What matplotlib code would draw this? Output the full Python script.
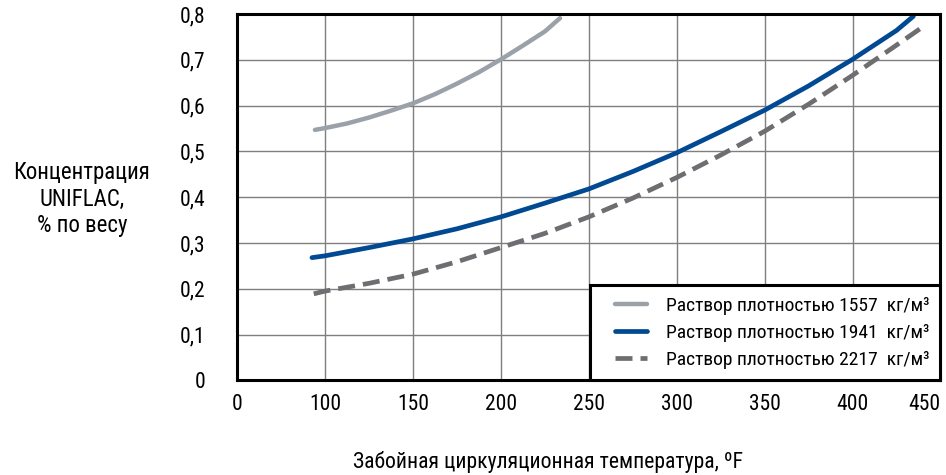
import numpy as np
import matplotlib
matplotlib.use('Agg')
import matplotlib.pyplot as plt
from matplotlib import font_manager
from matplotlib.patches import Rectangle

names = set(f.name for f in font_manager.fontManager.ttflist)
narrow = [n for n in ['Roboto Condensed', 'Liberation Sans Narrow', 'Arial Narrow', 'Roboto'] if n in names]
plt.rcParams['font.family'] = narrow[:1] + ['DejaVu Sans']

# data (temperature in F, concentration in % by weight)
t_1557 = [88.4, 100, 112.5, 125, 137.5, 150, 162.5, 175, 187.5, 200, 212.5, 225, 233.6]
c_1557 = [0.547, 0.551, 0.561, 0.574, 0.589, 0.605, 0.625, 0.648, 0.673, 0.701, 0.731, 0.762, 0.791]

t_1941 = [85, 100, 125, 150, 175, 200, 225, 250, 275, 300, 325, 350, 375, 400, 425, 434.6]
c_1941 = [0.268, 0.272, 0.290, 0.309, 0.331, 0.357, 0.387, 0.418, 0.456, 0.497,
          0.543, 0.590, 0.643, 0.701, 0.764, 0.795]

t_2217 = [87, 100, 125, 150, 175, 200, 225, 250, 275, 300, 325, 350, 375, 400, 425, 440]
c_2217 = [0.189, 0.195, 0.212, 0.232, 0.259, 0.290, 0.321, 0.357, 0.398, 0.443,
          0.492, 0.544, 0.603, 0.666, 0.732, 0.772]

x_ticks = [0, 100, 150, 200, 250, 300, 350, 400, 450]
y_ticks = [0, 0.1, 0.2, 0.3, 0.4, 0.5, 0.6, 0.7, 0.8]
y_ticklabels = ['0', '0,1', '0,2', '0,3', '0,4', '0,5', '0,6', '0,7', '0,8']
labels = ['Раствор плотностью 1557  кг/м³',
          'Раствор плотностью 1941  кг/м³',
          'Раствор плотностью 2217  кг/м³']


# x axis: 0..100 takes one grid step, then 50 per step
def fwd(x):
    x = np.asarray(x, dtype=float)
    return np.where(x <= 100, x / 100.0, 1 + (x - 100) / 50.0)


def inv(p):
    p = np.asarray(p, dtype=float)
    return np.where(p <= 1, p * 100.0, 100 + (p - 1) * 50.0)


fig = plt.figure(figsize=(9.46, 4.75), dpi=100)
ax = fig.add_axes([0.2508, 0.1992, 0.7433, 0.7713])
ax.set_xscale('function', functions=(fwd, inv))

l1, = ax.plot(t_1557, c_1557, color='#9aa1a8', lw=3.2, solid_capstyle='round', solid_joinstyle='round')
l2, = ax.plot(t_1941, c_1941, color='#014a93', lw=3.4, solid_capstyle='round', solid_joinstyle='round')
l3, = ax.plot(t_2217, c_2217, color='#6d6e71', lw=3.4, dashes=(3.6, 1.7))

ax.set_xlim(0, 450)
ax.set_ylim(0, 0.8)
ax.set_xticks(x_ticks)
ax.set_xticklabels([str(v) for v in x_ticks])
ax.set_yticks(y_ticks)
ax.set_yticklabels(y_ticklabels)
ax.get_xticklabels()[-1].set_horizontalalignment('right')

ax.grid(True, color='#7f7f7f', lw=1.0)
ax.set_axisbelow(True)
ax.tick_params(length=0, labelsize=15.5)
ax.tick_params(axis='y', pad=23)
ax.tick_params(axis='x', pad=10)
for s in ax.spines.values():
    s.set_linewidth(2.2)
    s.set_color('black')

ax.set_ylabel('Концентрация\nUNIFLAC,\n% по весу', rotation=0, fontsize=16.5,
              ha='center', va='center', linespacing=1.2)
ax.yaxis.set_label_coords(-0.221, 0.495)
ax.set_xlabel('Забойная циркуляционная температура, ºF', fontsize=15.6)
ax.xaxis.set_label_coords(0.442, -0.223)
ax.xaxis.label.set_va('center')

# legend box drawn as its own frame, entries placed inside it
box = Rectangle((0.502, 0.0), 0.498, 0.26, transform=ax.transAxes, fc='white',
                ec='black', lw=2.2, zorder=4, clip_on=False)
ax.add_patch(box)
leg = ax.legend([l1, l2, l3], labels, loc='center left',
                bbox_to_anchor=(0.537, 0.129), fontsize=14.0,
                handlelength=1.65, handletextpad=1.0, labelspacing=0.47,
                borderpad=0, borderaxespad=0, frameon=False)
leg.set_zorder(5)

fig.savefig('out.png', dpi=100)
